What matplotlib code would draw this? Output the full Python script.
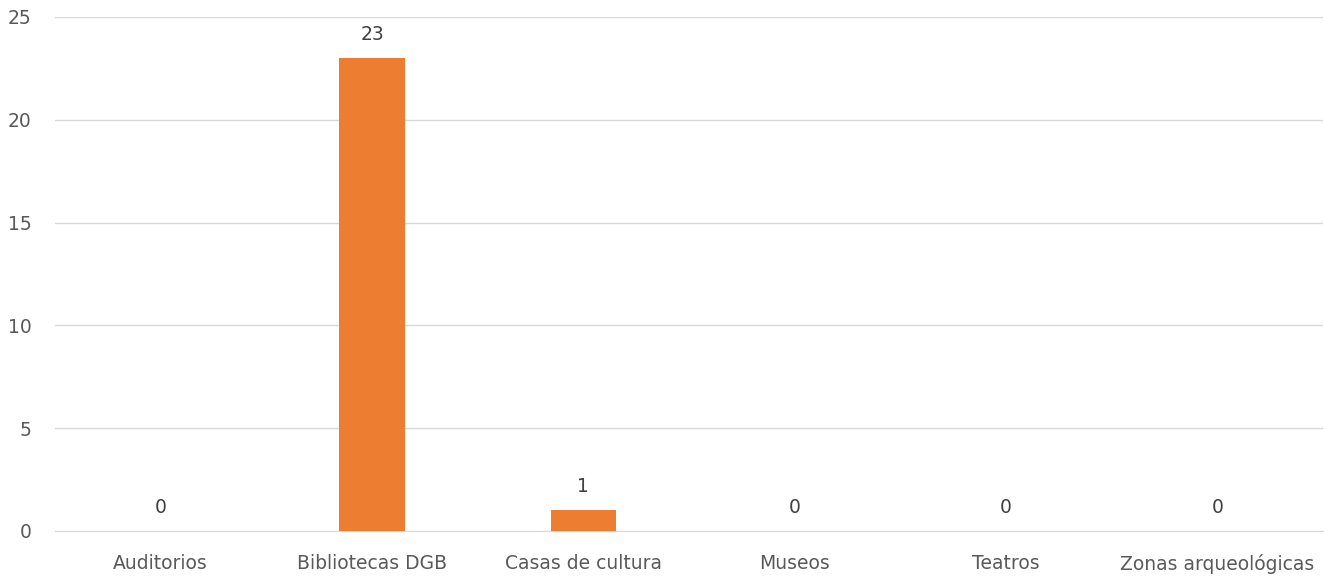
import matplotlib.pyplot as plt
import numpy as np

categories = ["Auditorios", "Bibliotecas DGB", "Casas de cultura", "Museos", "Teatros", "Zonas arqueológicas"]
values = [0, 23, 1, 0, 0, 0]

plt.rcParams['font.family'] = ['DejaVu Sans']

fig = plt.figure(figsize=(13.26, 5.76), dpi=100)
ax = fig.add_axes([55 / 1326, 45 / 576, 1268 / 1326, 514 / 576])

x = np.arange(len(categories))
bars = ax.bar(x, values, width=0.31, color='#ED7D31', zorder=3)
for xi, v in zip(x, values):
    ax.text(xi, v + 0.7, str(v), ha='center', va='bottom', fontsize=13.5, color='#404040')

ax.set_xlim(-0.5, len(categories) - 0.5)
ax.set_ylim(0, 25)
ax.set_yticks(range(0, 26, 5))
ax.set_xticks(x)
ax.set_xticklabels(categories)
ax.yaxis.grid(True, color='#D9D9D9', linewidth=1, zorder=0)
for s in ['top', 'right', 'left']:
    ax.spines[s].set_visible(False)
ax.spines['bottom'].set_color('#D9D9D9')
ax.tick_params(axis='both', length=0, labelsize=13.5, colors='#595959')
ax.tick_params(axis='y', pad=17)
ax.tick_params(axis='x', pad=16.5)

fig.savefig("out.png", dpi=100)
